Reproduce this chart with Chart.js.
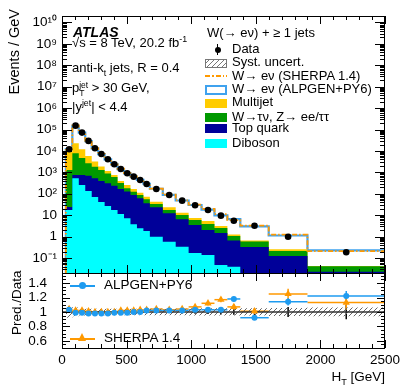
<!DOCTYPE html>
<html>
<head>
<meta charset="utf-8">
<title>W(→eν) + ≥1 jets, H_T</title>
<script src="https://cdn.jsdelivr.net/npm/chart.js@4.4.1/dist/chart.umd.min.js"></script>
<style>
  html, body { margin: 0; padding: 0; background: #fff; }
  #wrap { position: relative; width: 407px; height: 391px; overflow: hidden;
          font-family: "Liberation Sans", Arial, Helvetica, sans-serif; color: #000; }
  #wrap canvas { position: absolute; left: 0; top: 0; }
  .lbl { position: absolute; white-space: nowrap; font-size: 13px; line-height: 14px; }
  .sw { position: absolute; left: 205px; width: 22px; height: 9px; box-sizing: border-box; }
  sup, sub { font-size: 68%; line-height: 0; }
  .ss { display: inline-block; vertical-align: -4px; font-size: 8.5px; line-height: 8px; }
  .ss span { display: block; }
</style>
</head>
<body>
<div id="wrap">
  <canvas id="chart" width="407" height="391"></canvas>

  <!-- axis titles -->
  <div class="lbl" style="font-size:14.5px;left:-30px;top:46px;width:88px;text-align:right;transform:rotate(-90deg);">Events / GeV</div>
  <div class="lbl" style="font-size:13.5px;left:-14px;top:297px;width:62px;text-align:right;transform:rotate(-90deg);">Pred./Data</div>
  <div class="lbl" style="font-size:13.5px;right:22px;top:370px;">H<sub>T</sub> [GeV]</div>

  <!-- left annotations -->
  <div class="lbl" style="left:73px;top:24px;font-size:14px;line-height:16px;font-weight:bold;font-style:italic;">ATLAS</div>
  <div class="lbl" style="left:72px;top:36px;">√s = 8 TeV, 20.2 fb<sup>-1</sup></div>
  <div class="lbl" style="left:72px;top:61px;">anti-k<sub>t</sub> jets, R = 0.4</div>
  <div class="lbl" style="left:72px;top:81px;">p<span class="ss"><span>jet</span><span>T</span></span> &gt; 30 GeV,</div>
  <div class="lbl" style="left:72px;top:100px;">|y<sup>jet</sup>| &lt; 4.4</div>

  <!-- legend -->
  <div class="lbl" style="left:207px;top:26px;">W(→ eν) + ≥ 1 jets</div>
  <div style="position:absolute;left:217px;top:44px;width:1px;height:11px;background:#000;"></div>
  <div style="position:absolute;left:215px;top:47px;width:6px;height:6px;border-radius:50%;background:#000;"></div>
  <div class="lbl" style="left:232px;top:42px;">Data</div>
  <div class="sw" style="top:59px;border:1px solid #777;background:repeating-linear-gradient(-45deg,#fff 0 2.5px,#777 2.5px 3.5px);"></div>
  <div class="lbl" style="left:232px;top:55px;">Syst. uncert.</div>
  <div style="position:absolute;left:205px;top:75px;width:22px;height:2px;background:repeating-linear-gradient(90deg,#ff9900 0 5px,transparent 5px 7px,#ff9900 7px 8.5px,transparent 8.5px 10.5px);"></div>
  <div class="lbl" style="left:232px;top:69px;">W→ eν (SHERPA 1.4)</div>
  <div class="sw" style="top:85px;height:10px;border:2px solid #3fa2ee;background:#fff;"></div>
  <div class="lbl" style="left:232px;top:82px;">W→ eν (ALPGEN+PY6)</div>
  <div class="sw" style="top:99px;background:#ffcc00;"></div>
  <div class="lbl" style="left:232px;top:95px;">Multijet</div>
  <div class="sw" style="top:113px;background:#009900;"></div>
  <div class="lbl" style="left:232px;top:110px;">W→τν, Z→ ee/ττ</div>
  <div class="sw" style="top:124px;background:#000099;"></div>
  <div class="lbl" style="left:232px;top:121px;">Top quark</div>
  <div class="sw" style="top:139px;background:#00ffff;"></div>
  <div class="lbl" style="left:232px;top:136px;">Diboson</div>

  <!-- ratio legend -->
  <div style="position:absolute;left:70px;top:285px;width:25px;height:1.5px;background:#1e9bf0;"></div>
  <div style="position:absolute;left:79px;top:282px;width:7px;height:7px;border-radius:50%;background:#1e9bf0;"></div>
  <div class="lbl" style="left:104px;top:278px;font-size:13.5px;">ALPGEN+PY6</div>
  <div style="position:absolute;left:70px;top:338px;width:25px;height:1.5px;background:#ff9900;"></div>
  <div style="position:absolute;left:78px;top:333px;width:0;height:0;border-left:4.5px solid transparent;border-right:4.5px solid transparent;border-bottom:8px solid #ff9900;"></div>
  <div class="lbl" style="left:104px;top:331px;font-size:13.5px;">SHERPA 1.4</div>
</div>

<script>
// DATA (events / GeV)
const binEdges = [30, 80, 130, 180, 230, 280, 330, 380, 430, 480, 530, 580, 630, 680, 780, 880, 980, 1080, 1180, 1280, 1380, 1600, 1900, 2500];
const dataValues = [12000, 152000, 71800, 29400, 13400, 7260, 4100, 2390, 1445, 910, 631, 443, 288, 168, 88, 47.7, 29.1, 17.5, 9.5, 5.5, 3.24, 0.99, 0.185];
const diboson = [17.5, 531, 258, 135, 71, 41.5, 27, 17.5, 11.4, 7.2, 3.8, 2.45, 1.83, 0.99, 0.58, 0.34, 0.17, 0.14, 0.047, 0.039, 0.01, 0.01, 0.005];
const topQuark = [6.7, 226, 499, 568, 460, 355, 283, 222, 157, 119, 84, 59, 34, 22.4, 11.7, 6.1, 3.32, 1.9, 1.43, 0.62, 0.317, 0.114, 0.018];
const wTauZee = [1274, 7063, 3963, 1964, 1319, 901, 581, 371, 152, 55, 38, 26, 19.4, 10, 5.2, 3.76, 2.49, 1.85, 1.05, 0.41, 0.263, 0.089, 0.018];
const multijet = [7990, 15140, 7300, 3183, 1390, 592, 274, 146, 77, 77, 42, 25, 17.5, 9.4, 5.9, 2.9, 1.42, 1.48, 0.61, 0.19, 0.07, 0.045, 0.002];

// Pred./Data
const ratioAlpgen = [1.03, 0.99, 0.99, 0.98, 0.98, 0.98, 0.98, 0.99, 0.99, 0.99, 1.0, 1.0, 1.02, 1.02, 1.02, 1.02, 1.03, 1.03, 1.03, 1.18, 0.92, 1.14, 1.22];
const ratioSherpa = [1.04, 1.02, 1.02, 1.01, 1.0, 1.0, 1.0, 1.0, 1.02, 1.02, 1.02, 1.03, 1.03, 1.04, 1.03, 1.04, 1.07, 1.12, 1.17, 1.07, 1.01, 1.25, 1.13];
const errAlpgen = [0.01, 0.005, 0.005, 0.005, 0.005, 0.005, 0.005, 0.005, 0.01, 0.01, 0.01, 0.01, 0.01, 0.01, 0.015, 0.02, 0.02, 0.025, 0.03, 0.03, 0.03, 0.05, 0.07];
const errSherpa = [0.015, 0.01, 0.01, 0.01, 0.01, 0.01, 0.01, 0.01, 0.015, 0.015, 0.015, 0.015, 0.02, 0.02, 0.02, 0.025, 0.03, 0.03, 0.035, 0.04, 0.04, 0.07, 0.1];
const dataErr = [0.005, 0.002, 0.002, 0.002, 0.003, 0.003, 0.004, 0.005, 0.006, 0.007, 0.008, 0.01, 0.012, 0.012, 0.015, 0.02, 0.025, 0.03, 0.035, 0.04, 0.045, 0.07, 0.1];
const systUnc = [0.08, 0.06, 0.05, 0.045, 0.045, 0.045, 0.045, 0.045, 0.045, 0.045, 0.045, 0.045, 0.045, 0.045, 0.045, 0.045, 0.05, 0.05, 0.05, 0.05, 0.05, 0.055, 0.06];

const yMin = 0.02, yMax = 2e10;
const FONT = '"Liberation Sans", Arial, Helvetica, sans-serif';

// cumulative stack (diboson at the bottom)
const cum = [];
let run = binEdges.slice(1).map(() => 0);
[diboson, topQuark, wTauZee, multijet].forEach(s => {
    run = run.map((v, i) => v + s[i]);
    cum.push(run);
});
const alpgenTotal = dataValues.map((v, i) => v * ratioAlpgen[i]);
const sherpaTotal = dataValues.map((v, i) => v * ratioSherpa[i]);
const centers = binEdges.slice(1).map((e, i) => (e + binEdges[i]) / 2);

// histogram outline as step points
function histSteps(vals, floor) {
    const pts = [];
    if (floor !== undefined) pts.push({x: binEdges[0], y: floor});
    vals.forEach((v, i) => pts.push({x: binEdges[i], y: floor !== undefined ? Math.max(v, floor) : v}));
    const last = vals[vals.length - 1];
    pts.push({x: binEdges[binEdges.length - 1], y: floor !== undefined ? Math.max(last, floor) : last});
    return pts;
}

function hatchPattern(color) {
    const c = document.createElement("canvas");
    c.width = 5; c.height = 5;
    const g = c.getContext("2d");
    g.strokeStyle = color;
    g.lineWidth = 1;
    g.beginPath();
    g.moveTo(0, 5); g.lineTo(5, 0);
    g.moveTo(-1, 1); g.lineTo(1, -1);
    g.moveTo(4, 6); g.lineTo(6, 4);
    g.stroke();
    return g.createPattern(c, "repeat");
}

const stepLine = (vals, color, extra) => Object.assign({
    type: "line", yAxisID: "y", data: histSteps(vals, yMin), stepped: "before",
    pointRadius: 0, borderWidth: 0, borderColor: color, backgroundColor: color, fill: "start"
}, extra);

const datasets = [
    // data points
    {type: "line", yAxisID: "y", showLine: false, data: centers.map((x, i) => ({x, y: dataValues[i]})),
     pointRadius: 3.3, pointBackgroundColor: "#000", pointBorderWidth: 0},
    // ratio points
    {type: "line", yAxisID: "yr", showLine: false, data: centers.map((x, i) => ({x, y: ratioAlpgen[i]})),
     pointRadius: 3, pointBackgroundColor: "#1e9bf0", pointBorderWidth: 0},
    {type: "line", yAxisID: "yr", showLine: false, data: centers.map((x, i) => ({x, y: ratioSherpa[i]})),
     pointStyle: "triangle", pointRadius: 4.2, pointBackgroundColor: "#ff9900", pointBorderWidth: 0},
    // line at 1
    {type: "line", yAxisID: "yr", data: [{x: 0, y: 1}, {x: 2500, y: 1}], borderColor: "#333", borderWidth: 1.5, pointRadius: 0},
    // syst band
    {type: "line", yAxisID: "yr", data: histSteps(systUnc.map(s => 1 + s)), stepped: "before", pointRadius: 0,
     borderWidth: 0, fill: "+1", backgroundColor: hatchPattern("#666")},
    {type: "line", yAxisID: "yr", data: histSteps(systUnc.map(s => 1 - s)), stepped: "before", pointRadius: 0,
     borderWidth: 0, fill: false},
    // SHERPA total
    stepLine(sherpaTotal, "#ff9900", {fill: false, borderWidth: 1.8, borderDash: [5, 2, 1.5, 2]}),
    // stack
    stepLine(cum[0], "#00ffff"),
    stepLine(cum[1], "#000099"),
    stepLine(cum[2], "#009900"),
    stepLine(cum[3], "#ffcc00"),
    // ALPGEN total
    stepLine(alpgenTotal, "#3fa2ee", {backgroundColor: "#fff", borderWidth: 2.2})
];

// error bars
const errorBars = {
    id: "errorBars",
    beforeDatasetsDraw(chart) {
        const {ctx} = chart;
        const x = chart.scales.x, yr = chart.scales.yr;
        ctx.save();
        ctx.lineWidth = 1.5;
        const seg = (x1, y1, x2, y2) => { ctx.beginPath(); ctx.moveTo(x1, y1); ctx.lineTo(x2, y2); ctx.stroke(); };
        ctx.strokeStyle = "#000";
        dataErr.forEach((e, i) => {
            const px = x.getPixelForValue(centers[i]);
            seg(px, yr.getPixelForValue(1 - e), px, yr.getPixelForValue(1 + e));
        });
        [[ratioSherpa, errSherpa, "#ff9900"], [ratioAlpgen, errAlpgen, "#1e9bf0"]].forEach(([r, err, col]) => {
            ctx.strokeStyle = col;
            r.forEach((v, i) => {
                const py = yr.getPixelForValue(v);
                seg(x.getPixelForValue(binEdges[i]), py, x.getPixelForValue(binEdges[i + 1]), py);
                const px = x.getPixelForValue(centers[i]);
                seg(px, yr.getPixelForValue(v - err[i]), px, yr.getPixelForValue(v + err[i]));
            });
        });
        ctx.restore();
    }
};

// ATLAS style frame with inner ticks on all sides
const frameTicks = {
    id: "frameTicks",
    afterDatasetsDraw(chart) {
        const {ctx} = chart;
        const x = chart.scales.x, y = chart.scales.y, yr = chart.scales.yr;
        ctx.save();
        ctx.strokeStyle = "#000";
        ctx.lineWidth = 1;
        const seg = (x1, y1, x2, y2) => { ctx.beginPath(); ctx.moveTo(x1, y1); ctx.lineTo(x2, y2); ctx.stroke(); };
        [y, yr].forEach(s => {
            ctx.strokeRect(x.left + 0.5, s.top + 0.5, x.right - x.left - 1, s.bottom - s.top);
            for (let v = 0; v <= 2500; v += 100) {
                const px = Math.round(x.getPixelForValue(v)) + 0.5;
                const len = v % 500 === 0 ? 8 : 4;
                seg(px, s.bottom, px, s.bottom - len);
                seg(px, s.top, px, s.top + len);
            }
        });
        for (let e = -2; e <= 10; e++) {
            for (let m = 1; m <= 9; m++) {
                const v = m * Math.pow(10, e);
                if (v < y.min || v > y.max) continue;
                const py = Math.round(y.getPixelForValue(v)) + 0.5;
                const len = m === 1 ? 10 : 5;
                seg(x.left, py, x.left + len, py);
                seg(x.right, py, x.right - len, py);
            }
        }
        for (let i = 11; i <= 30; i++) {
            const v = i * 0.05;
            const py = Math.round(yr.getPixelForValue(v)) + 0.5;
            const len = i % 4 === 0 ? 8 : 4;
            seg(x.left, py, x.left + len, py);
            seg(x.right, py, x.right - len, py);
        }
        ctx.restore();
    }
};

const supDigits = {"-": "⁻", "0": "⁰", "1": "¹", "2": "²", "3": "³", "4": "⁴", "5": "⁵", "6": "⁶", "7": "⁷", "8": "⁸", "9": "⁹"};
// fixed axis width, and no label overflow padding so the plot top stays at 16px
const fixWidth = s => { s.width = 62; s.paddingTop = 0; s.paddingBottom = 0; };

const chart = new Chart(document.getElementById("chart"), {
    type: "line",
    data: {datasets},
    options: {
        responsive: false,
        animation: false,
        events: [],
        layout: {padding: {top: 16, right: 22, left: 0, bottom: 0}},
        plugins: {legend: {display: false}, tooltip: {enabled: false}},
        scales: {
            x: {
                type: "linear", position: "bottom", min: 0, max: 2500,
                afterBuildTicks: s => { s.ticks = [0, 500, 1000, 1500, 2000, 2500].map(v => ({value: v})); },
                afterFit: s => { s.height = 43; },
                grid: {display: false, drawTicks: false},
                border: {display: false},
                ticks: {padding: 4, color: "#000", font: {family: FONT, size: 13.5}, maxRotation: 0,
                        autoSkip: false, callback: v => String(v)}
            },
            yr: {
                type: "linear", position: "left", stack: "panels", stackWeight: 75, min: 0.5, max: 1.54,
                afterBuildTicks: s => { s.ticks = [0.6, 0.8, 1, 1.2, 1.4].map(v => ({value: v})); },
                afterFit: fixWidth,
                grid: {display: false, drawTicks: false},
                border: {display: false},
                ticks: {padding: 15, color: "#000", font: {family: FONT, size: 13.5}, autoSkip: false,
                        callback: v => (Math.abs(v - 1) < 1e-9 ? "1" : v.toFixed(1))}
            },
            y: {
                type: "logarithmic", position: "left", stack: "panels", stackWeight: 257, min: yMin, max: yMax,
                afterBuildTicks: s => {
                    const t = [];
                    for (let e = -1; e <= 10; e++) t.push({value: Math.pow(10, e)});
                    s.ticks = t;
                },
                afterFit: fixWidth,
                grid: {display: false, drawTicks: false},
                border: {display: false},
                ticks: {padding: 5, color: "#000", font: {family: FONT, size: 13.5}, autoSkip: false,
                        callback: v => {
                            const e = Math.round(Math.log10(v));
                            if (e === 0) return "1";
                            if (e === 1) return "10";
                            return "10" + String(e).split("").map(c => supDigits[c]).join("");
                        }}
            }
        }
    },
    plugins: [errorBars, frameTicks]
});
</script>
</body>
</html>
